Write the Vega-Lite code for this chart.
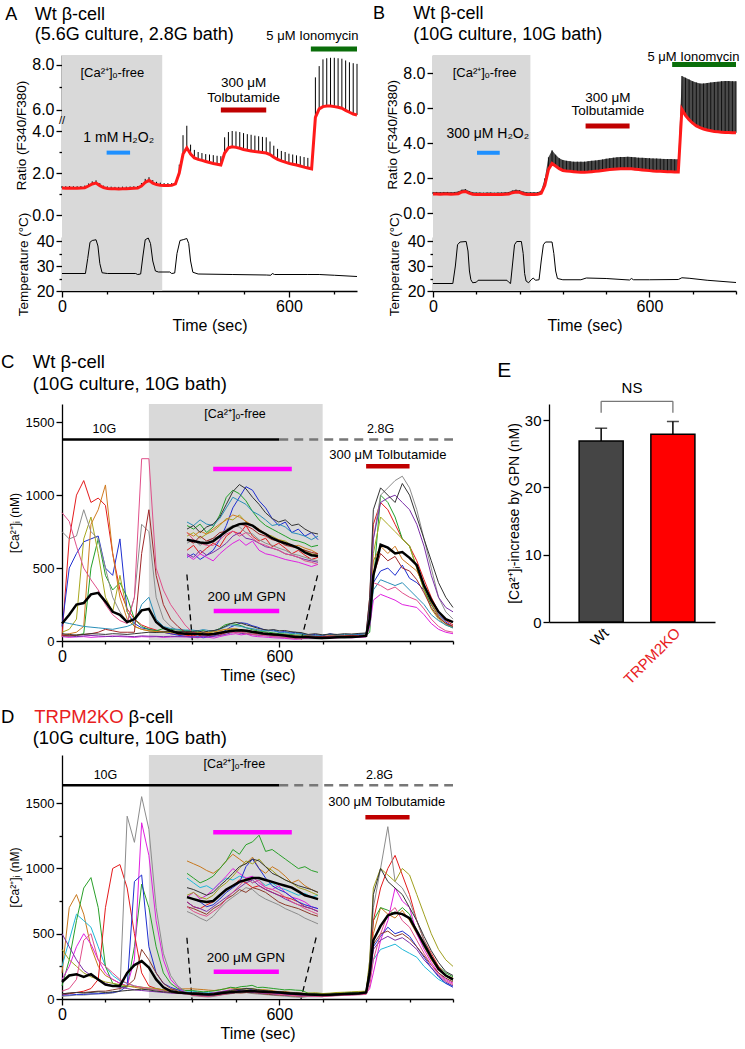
{
  "$schema": "https://vega.github.io/schema/vega-lite/v6.json",
  "background": "white",
  "padding": {"left": 0, "top": 5, "right": 3, "bottom": 2},
  "config": {
    "font": "Liberation Sans",
    "view": {"stroke": null},
    "axis": {"grid": false, "domainColor": "#000", "tickColor": "#000", "labelColor": "#000", "titleColor": "#000", "titleFontWeight": "normal", "domainWidth": 1.3, "tickWidth": 1.3, "labelFlush": false, "labelOverlap": false},
    "title": {"font": "Liberation Sans", "color": "#000"}
  },
  "resolve": {"scale": {"color": "independent"}},
  "spacing": 20,
  "datasets": {
    "ratioA": [
      {"t":0,"m":1.28,"u":1.38},{"t":10,"m":1.27,"u":1.37},{"t":20,"m":1.28,"u":1.38},{"t":30,"m":1.27,"u":1.37},{"t":40,"m":1.27,"u":1.37},{"t":50,"m":1.28,"u":1.38},{"t":60,"m":1.30,"u":1.40},{"t":70,"m":1.38,"u":1.50},{"t":80,"m":1.48,"u":1.60},{"t":90,"m":1.52,"u":1.65},{"t":100,"m":1.40,"u":1.52},{"t":110,"m":1.30,"u":1.40},{"t":120,"m":1.26,"u":1.36},{"t":130,"m":1.25,"u":1.35},{"t":140,"m":1.25,"u":1.34},{"t":150,"m":1.24,"u":1.34},{"t":160,"m":1.25,"u":1.35},{"t":170,"m":1.25,"u":1.35},{"t":180,"m":1.26,"u":1.36},{"t":190,"m":1.27,"u":1.37},{"t":200,"m":1.28,"u":1.38},{"t":210,"m":1.38,"u":1.52},{"t":220,"m":1.55,"u":1.72},{"t":230,"m":1.65,"u":1.80},{"t":240,"m":1.52,"u":1.66},{"t":250,"m":1.45,"u":1.58},{"t":260,"m":1.42,"u":1.54},{"t":270,"m":1.40,"u":1.52},{"t":280,"m":1.40,"u":1.52},{"t":290,"m":1.41,"u":1.52},{"t":300,"m":1.48,"u":1.60},{"t":310,"m":2.00,"u":2.40},{"t":320,"m":2.90,"u":3.80},{"t":330,"m":3.20,"u":4.25},{"t":340,"m":2.90,"u":3.35},{"t":350,"m":2.72,"u":3.10},{"t":360,"m":2.65,"u":3.00},{"t":370,"m":2.60,"u":2.95},{"t":380,"m":2.55,"u":2.90},{"t":390,"m":2.50,"u":2.88},{"t":400,"m":2.45,"u":2.85},{"t":410,"m":2.42,"u":2.82},{"t":420,"m":2.38,"u":2.80},{"t":430,"m":2.95,"u":3.70},{"t":440,"m":3.20,"u":3.95},{"t":450,"m":3.25,"u":4.00},{"t":460,"m":3.22,"u":3.98},{"t":470,"m":3.18,"u":3.95},{"t":480,"m":3.12,"u":3.90},{"t":490,"m":3.08,"u":3.85},{"t":500,"m":3.05,"u":3.82},{"t":510,"m":3.02,"u":3.78},{"t":520,"m":3.00,"u":3.75},{"t":530,"m":2.98,"u":3.72},{"t":540,"m":2.95,"u":3.70},{"t":550,"m":2.88,"u":3.50},{"t":560,"m":2.75,"u":3.30},{"t":570,"m":2.65,"u":3.15},{"t":580,"m":2.58,"u":3.05},{"t":590,"m":2.52,"u":3.00},{"t":600,"m":2.46,"u":2.92},{"t":610,"m":2.42,"u":2.88},{"t":620,"m":2.38,"u":2.84},{"t":630,"m":2.33,"u":2.80},{"t":640,"m":2.28,"u":2.76},{"t":650,"m":2.24,"u":2.72},{"t":660,"m":2.20,"u":2.68},{"t":670,"m":5.60,"u":7.45},{"t":680,"m":6.05,"u":7.95},{"t":690,"m":6.15,"u":8.25},{"t":700,"m":6.18,"u":8.30},{"t":710,"m":6.18,"u":8.32},{"t":720,"m":6.15,"u":8.32},{"t":730,"m":6.12,"u":8.30},{"t":740,"m":6.08,"u":8.28},{"t":750,"m":5.98,"u":8.20},{"t":760,"m":5.90,"u":8.12},{"t":770,"m":5.82,"u":8.08},{"t":780,"m":5.78,"u":8.05}
    ],
    "tempA": [
      {"t":0,"c":27},{"t":62,"c":27},{"t":68,"c":33},{"t":74,"c":39.5},{"t":80,"c":40.2},{"t":90,"c":40.5},{"t":95,"c":38},{"t":100,"c":31},{"t":106,"c":27.3},{"t":120,"c":27},{"t":195,"c":27},{"t":200,"c":26.6},{"t":208,"c":26.8},{"t":214,"c":34},{"t":220,"c":40.5},{"t":228,"c":41.2},{"t":234,"c":39},{"t":240,"c":32},{"t":247,"c":28},{"t":255,"c":27.6},{"t":285,"c":27.6},{"t":290,"c":27},{"t":298,"c":27.2},{"t":304,"c":35},{"t":312,"c":40.2},{"t":322,"c":40.6},{"t":330,"c":41},{"t":335,"c":39},{"t":340,"c":32},{"t":346,"c":27.5},{"t":360,"c":26.8},{"t":450,"c":26.6},{"t":540,"c":26.4},{"t":552,"c":26.3},{"t":556,"c":27},{"t":562,"c":26.6},{"t":650,"c":26.6},{"t":680,"c":26.6},{"t":720,"c":26.3},{"t":780,"c":25.8}
    ],
    "ratioB": [
      {"t":0,"m":1.10,"u":1.22},{"t":10,"m":1.10,"u":1.22},{"t":20,"m":1.09,"u":1.21},{"t":30,"m":1.10,"u":1.22},{"t":40,"m":1.10,"u":1.22},{"t":50,"m":1.09,"u":1.21},{"t":60,"m":1.10,"u":1.22},{"t":70,"m":1.12,"u":1.25},{"t":80,"m":1.22,"u":1.35},{"t":90,"m":1.25,"u":1.38},{"t":100,"m":1.15,"u":1.27},{"t":110,"m":1.09,"u":1.20},{"t":120,"m":1.08,"u":1.19},{"t":130,"m":1.08,"u":1.19},{"t":140,"m":1.07,"u":1.18},{"t":150,"m":1.08,"u":1.19},{"t":160,"m":1.08,"u":1.19},{"t":170,"m":1.07,"u":1.18},{"t":180,"m":1.08,"u":1.19},{"t":190,"m":1.08,"u":1.19},{"t":200,"m":1.09,"u":1.20},{"t":210,"m":1.10,"u":1.22},{"t":220,"m":1.18,"u":1.30},{"t":230,"m":1.22,"u":1.35},{"t":240,"m":1.20,"u":1.32},{"t":250,"m":1.12,"u":1.24},{"t":260,"m":1.08,"u":1.20},{"t":270,"m":1.08,"u":1.20},{"t":280,"m":1.08,"u":1.20},{"t":290,"m":1.09,"u":1.21},{"t":300,"m":1.15,"u":1.30},{"t":310,"m":1.60,"u":2.00},{"t":320,"m":2.50,"u":3.20},{"t":330,"m":2.85,"u":3.60},{"t":340,"m":2.70,"u":3.35},{"t":350,"m":2.55,"u":3.15},{"t":360,"m":2.45,"u":3.05},{"t":370,"m":2.42,"u":3.00},{"t":380,"m":2.40,"u":2.98},{"t":390,"m":2.38,"u":2.95},{"t":400,"m":2.36,"u":2.95},{"t":410,"m":2.35,"u":2.95},{"t":420,"m":2.35,"u":2.95},{"t":430,"m":2.36,"u":2.98},{"t":440,"m":2.38,"u":3.00},{"t":450,"m":2.40,"u":3.02},{"t":460,"m":2.42,"u":3.05},{"t":470,"m":2.45,"u":3.08},{"t":480,"m":2.48,"u":3.12},{"t":490,"m":2.50,"u":3.15},{"t":500,"m":2.52,"u":3.18},{"t":510,"m":2.53,"u":3.20},{"t":520,"m":2.54,"u":3.22},{"t":530,"m":2.55,"u":3.22},{"t":540,"m":2.55,"u":3.23},{"t":550,"m":2.54,"u":3.22},{"t":560,"m":2.52,"u":3.20},{"t":570,"m":2.50,"u":3.18},{"t":580,"m":2.48,"u":3.17},{"t":590,"m":2.46,"u":3.16},{"t":600,"m":2.44,"u":3.15},{"t":610,"m":2.42,"u":3.14},{"t":620,"m":2.41,"u":3.13},{"t":630,"m":2.40,"u":3.12},{"t":640,"m":2.39,"u":3.11},{"t":650,"m":2.38,"u":3.10},{"t":660,"m":2.37,"u":3.10},{"t":670,"m":2.36,"u":3.09},{"t":680,"m":2.36,"u":3.09},{"t":690,"m":5.95,"u":7.85},{"t":700,"m":5.60,"u":7.75},{"t":710,"m":5.35,"u":7.65},{"t":720,"m":5.15,"u":7.55},{"t":730,"m":5.00,"u":7.48},{"t":740,"m":4.90,"u":7.42},{"t":750,"m":4.82,"u":7.42},{"t":760,"m":4.76,"u":7.45},{"t":770,"m":4.72,"u":7.48},{"t":780,"m":4.68,"u":7.50},{"t":790,"m":4.66,"u":7.52},{"t":800,"m":4.64,"u":7.55},{"t":810,"m":4.62,"u":7.56},{"t":820,"m":4.62,"u":7.56},{"t":830,"m":4.61,"u":7.55},{"t":840,"m":4.60,"u":7.55}
    ],
    "tempB": [
      {"t":0,"c":23},{"t":55,"c":23},{"t":62,"c":30},{"t":68,"c":38.5},{"t":75,"c":39.6},{"t":92,"c":39.8},{"t":97,"c":36},{"t":101,"c":28},{"t":105,"c":24.5},{"t":110,"c":23.3},{"t":120,"c":23.5},{"t":125,"c":24.3},{"t":205,"c":24.3},{"t":210,"c":23.5},{"t":215,"c":23},{"t":220,"c":30},{"t":226,"c":38.5},{"t":232,"c":39.8},{"t":245,"c":39.8},{"t":250,"c":35},{"t":254,"c":27},{"t":258,"c":24},{"t":265,"c":23.3},{"t":272,"c":24.5},{"t":278,"c":25.2},{"t":284,"c":24.3},{"t":294,"c":24.5},{"t":300,"c":32},{"t":306,"c":38.5},{"t":312,"c":39.6},{"t":330,"c":39.6},{"t":335,"c":35},{"t":340,"c":28},{"t":345,"c":25},{"t":360,"c":24.5},{"t":410,"c":24.5},{"t":425,"c":25.2},{"t":480,"c":25},{"t":545,"c":24.4},{"t":550,"c":25},{"t":556,"c":24.5},{"t":600,"c":24.5},{"t":680,"c":24.6},{"t":690,"c":25.3},{"t":710,"c":25.1},{"t":760,"c":24.3},{"t":840,"c":23.4}
    ],
    "cellsC": [
      {"t":0,"m":120,"c1":30,"c2":100,"c3":30,"c4":30,"c5":60,"c6":40,"c7":750,"c8":130,"c9":40,"c10":40,"c11":880,"c12":50},
      {"t":20,"m":180,"c1":700,"c2":500,"c3":35,"c4":25,"c5":80,"c6":50,"c7":700,"c8":120,"c9":35,"c10":35,"c11":820,"c12":45},
      {"t":40,"m":250,"c1":1000,"c2":600,"c3":40,"c4":28,"c5":150,"c6":60,"c7":720,"c8":110,"c9":30,"c10":40,"c11":650,"c12":40},
      {"t":60,"m":260,"c1":1100,"c2":680,"c3":50,"c4":30,"c5":700,"c6":100,"c7":900,"c8":100,"c9":35,"c10":45,"c11":500,"c12":45},
      {"t":80,"m":320,"c1":950,"c2":700,"c3":500,"c4":25,"c5":850,"c6":800,"c7":750,"c8":95,"c9":38,"c10":50,"c11":420,"c12":50},
      {"t":100,"m":330,"c1":980,"c2":720,"c3":700,"c4":28,"c5":600,"c6":900,"c7":700,"c8":90,"c9":35,"c10":60,"c11":350,"c12":48},
      {"t":120,"m":270,"c1":930,"c2":500,"c3":450,"c4":30,"c5":300,"c6":1070,"c7":500,"c8":85,"c9":32,"c10":80,"c11":250,"c12":45},
      {"t":140,"m":200,"c1":600,"c2":450,"c3":350,"c4":35,"c5":200,"c6":600,"c7":300,"c8":80,"c9":30,"c10":70,"c11":180,"c12":50},
      {"t":160,"m":180,"c1":350,"c2":700,"c3":400,"c4":30,"c5":450,"c6":300,"c7":200,"c8":90,"c9":35,"c10":60,"c11":140,"c12":48},
      {"t":180,"m":130,"c1":220,"c2":200,"c3":300,"c4":28,"c5":200,"c6":150,"c7":130,"c8":100,"c9":32,"c10":60,"c11":120,"c12":45},
      {"t":200,"m":150,"c1":150,"c2":120,"c3":150,"c4":25,"c5":100,"c6":100,"c7":300,"c8":120,"c9":30,"c10":60,"c11":300,"c12":50},
      {"t":220,"m":210,"c1":110,"c2":90,"c3":100,"c4":30,"c5":80,"c6":80,"c7":800,"c8":250,"c9":35,"c10":600,"c11":1250,"c12":55},
      {"t":240,"m":220,"c1":90,"c2":80,"c3":80,"c4":28,"c5":70,"c6":70,"c7":750,"c8":300,"c9":33,"c10":900,"c11":1250,"c12":60},
      {"t":260,"m":130,"c1":75,"c2":70,"c3":70,"c4":30,"c5":65,"c6":65,"c7":300,"c8":150,"c9":32,"c10":450,"c11":500,"c12":58},
      {"t":280,"m":90,"c1":60,"c2":60,"c3":85,"c4":25,"c5":60,"c6":65,"c7":150,"c8":100,"c9":30,"c10":250,"c11":350,"c12":62},
      {"t":300,"m":70,"c1":50,"c2":50,"c3":80,"c4":28,"c5":58,"c6":62,"c7":100,"c8":85,"c9":32,"c10":150,"c11":250,"c12":65},
      {"t":320,"m":55,"c1":45,"c2":40,"c3":75,"c4":30,"c5":55,"c6":60,"c7":70,"c8":80,"c9":30,"c10":100,"c11":180,"c12":65},
      {"t":340,"m":50,"c1":40,"c2":32,"c3":72,"c4":28,"c5":55,"c6":60,"c7":50,"c8":75,"c9":30,"c10":60,"c11":110,"c12":65},
      {"t":360,"m":50,"c1":35,"c2":25,"c3":70,"c4":28,"c5":55,"c6":60,"c7":45,"c8":75,"c9":30,"c10":50,"c11":60,"c12":65},
      {"t":375,"m":48,"c1":42,"c2":30,"c3":65,"c4":22,"c5":60,"c6":55,"c7":50,"c8":70,"c9":25,"c10":45,"c11":50,"c12":70},
      {"t":390,"m":46,"c1":30,"c2":22,"c3":72,"c4":30,"c5":52,"c6":62,"c7":42,"c8":78,"c9":35,"c10":55,"c11":45,"c12":60},
      {"t":405,"m":45,"c1":38,"c2":28,"c3":60,"c4":25,"c5":58,"c6":58,"c7":48,"c8":72,"c9":28,"c10":48,"c11":42,"c12":68},
      {"t":420,"m":48,"c1":45,"c2":35,"c3":68,"c4":20,"c5":62,"c6":65,"c7":52,"c8":70,"c9":32,"c10":52,"c11":42,"c12":72},
      {"t":435,"m":55,"c1":40,"c2":50,"c3":85,"c4":30,"c5":70,"c6":72,"c7":55,"c8":80,"c9":38,"c10":60,"c11":50,"c12":82},
      {"t":450,"m":62,"c1":55,"c2":70,"c3":110,"c4":38,"c5":80,"c6":78,"c7":65,"c8":95,"c9":45,"c10":62,"c11":58,"c12":100},
      {"t":465,"m":68,"c1":62,"c2":95,"c3":120,"c4":45,"c5":78,"c6":85,"c7":70,"c8":110,"c9":55,"c10":68,"c11":62,"c12":118},
      {"t":480,"m":72,"c1":58,"c2":110,"c3":115,"c4":50,"c5":85,"c6":82,"c7":68,"c8":105,"c9":60,"c10":72,"c11":55,"c12":128},
      {"t":495,"m":73,"c1":70,"c2":125,"c3":105,"c4":42,"c5":75,"c6":76,"c7":60,"c8":100,"c9":52,"c10":70,"c11":60,"c12":122},
      {"t":510,"m":70,"c1":55,"c2":120,"c3":90,"c4":48,"c5":70,"c6":70,"c7":58,"c8":90,"c9":50,"c10":65,"c11":52,"c12":110},
      {"t":525,"m":63,"c1":48,"c2":105,"c3":78,"c4":35,"c5":62,"c6":65,"c7":50,"c8":85,"c9":45,"c10":58,"c11":45,"c12":100},
      {"t":540,"m":58,"c1":52,"c2":95,"c3":70,"c4":30,"c5":58,"c6":58,"c7":45,"c8":78,"c9":40,"c10":55,"c11":42,"c12":88},
      {"t":555,"m":52,"c1":40,"c2":80,"c3":65,"c4":28,"c5":55,"c6":52,"c7":42,"c8":70,"c9":38,"c10":50,"c11":38,"c12":80},
      {"t":570,"m":48,"c1":45,"c2":70,"c3":60,"c4":25,"c5":50,"c6":50,"c7":38,"c8":72,"c9":35,"c10":48,"c11":35,"c12":75},
      {"t":585,"m":45,"c1":38,"c2":75,"c3":55,"c4":22,"c5":48,"c6":45,"c7":35,"c8":68,"c9":30,"c10":42,"c11":30,"c12":78},
      {"t":600,"m":42,"c1":30,"c2":60,"c3":50,"c4":20,"c5":42,"c6":40,"c7":30,"c8":60,"c9":28,"c10":40,"c11":28,"c12":70},
      {"t":615,"m":38,"c1":35,"c2":65,"c3":48,"c4":18,"c5":38,"c6":42,"c7":28,"c8":58,"c9":25,"c10":38,"c11":25,"c12":72},
      {"t":630,"m":32,"c1":28,"c2":55,"c3":45,"c4":15,"c5":35,"c6":38,"c7":25,"c8":55,"c9":22,"c10":35,"c11":20,"c12":65},
      {"t":645,"m":28,"c1":22,"c2":60,"c3":40,"c4":12,"c5":30,"c6":35,"c7":22,"c8":50,"c9":20,"c10":32,"c11":18,"c12":60},
      {"t":660,"m":27,"c1":25,"c2":50,"c3":42,"c4":15,"c5":28,"c6":30,"c7":20,"c8":55,"c9":18,"c10":30,"c11":15,"c12":58},
      {"t":680,"m":25,"c1":30,"c2":40,"c3":35,"c4":20,"c5":30,"c6":35,"c7":28,"c8":40,"c9":30,"c10":35,"c11":25,"c12":45},
      {"t":700,"m":22,"c1":28,"c2":45,"c3":30,"c4":22,"c5":32,"c6":30,"c7":30,"c8":38,"c9":28,"c10":32,"c11":22,"c12":50},
      {"t":720,"m":20,"c1":25,"c2":35,"c3":32,"c4":18,"c5":28,"c6":32,"c7":25,"c8":42,"c9":32,"c10":30,"c11":20,"c12":42},
      {"t":740,"m":22,"c1":30,"c2":50,"c3":28,"c4":20,"c5":30,"c6":35,"c7":28,"c8":45,"c9":30,"c10":35,"c11":25,"c12":48},
      {"t":760,"m":25,"c1":35,"c2":40,"c3":35,"c4":22,"c5":35,"c6":30,"c7":30,"c8":40,"c9":28,"c10":33,"c11":22,"c12":45},
      {"t":780,"m":25,"c1":32,"c2":38,"c3":30,"c4":25,"c5":32,"c6":35,"c7":32,"c8":45,"c9":30,"c10":35,"c11":28,"c12":50},
      {"t":800,"m":28,"c1":30,"c2":42,"c3":35,"c4":22,"c5":35,"c6":38,"c7":30,"c8":42,"c9":32,"c10":38,"c11":25,"c12":48},
      {"t":820,"m":30,"c1":35,"c2":45,"c3":38,"c4":25,"c5":38,"c6":36,"c7":35,"c8":48,"c9":35,"c10":36,"c11":28,"c12":52},
      {"t":840,"m":35,"c1":40,"c2":48,"c3":40,"c4":28,"c5":40,"c6":40,"c7":38,"c8":50,"c9":38,"c10":40,"c11":30,"c12":55},
      {"t":850,"m":150,"c1":300,"c2":150,"c3":60,"c4":100,"c5":200,"c6":250,"c7":200,"c8":120,"c9":250,"c10":150,"c11":150,"c12":300},
      {"t":860,"m":450,"c1":800,"c2":400,"c3":400,"c4":280,"c5":600,"c6":550,"c7":700,"c8":350,"c9":700,"c10":450,"c11":400,"c12":900},
      {"t":880,"m":660,"c1":950,"c2":480,"c3":1000,"c4":320,"c5":850,"c6":650,"c7":1000,"c8":420,"c9":950,"c10":600,"c11":380,"c12":1050},
      {"t":900,"m":640,"c1":900,"c2":500,"c3":950,"c4":300,"c5":800,"c6":600,"c7":1050,"c8":400,"c9":980,"c10":550,"c11":350,"c12":1000},
      {"t":920,"m":600,"c1":800,"c2":450,"c3":850,"c4":280,"c5":750,"c6":650,"c7":1100,"c8":380,"c9":1000,"c10":580,"c11":370,"c12":950},
      {"t":940,"m":610,"c1":700,"c2":520,"c3":700,"c4":250,"c5":700,"c6":560,"c7":1130,"c8":400,"c9":950,"c10":500,"c11":330,"c12":1080},
      {"t":960,"m":570,"c1":650,"c2":430,"c3":650,"c4":240,"c5":650,"c6":520,"c7":1050,"c8":350,"c9":900,"c10":480,"c11":300,"c12":1000},
      {"t":980,"m":520,"c1":550,"c2":400,"c3":500,"c4":230,"c5":500,"c6":480,"c7":900,"c8":300,"c9":800,"c10":420,"c11":280,"c12":850},
      {"t":1000,"m":380,"c1":420,"c2":350,"c3":350,"c4":180,"c5":350,"c6":380,"c7":700,"c8":250,"c9":650,"c10":330,"c11":220,"c12":700},
      {"t":1020,"m":280,"c1":300,"c2":250,"c3":250,"c4":120,"c5":220,"c6":260,"c7":500,"c8":180,"c9":450,"c10":230,"c11":150,"c12":550},
      {"t":1040,"m":200,"c1":200,"c2":180,"c3":170,"c4":80,"c5":150,"c6":170,"c7":300,"c8":140,"c9":300,"c10":160,"c11":100,"c12":400},
      {"t":1060,"m":150,"c1":140,"c2":130,"c3":120,"c4":60,"c5":110,"c6":120,"c7":200,"c8":110,"c9":230,"c10":120,"c11":70,"c12":300},
      {"t":1080,"m":130,"c1":110,"c2":100,"c3":90,"c4":50,"c5":90,"c6":100,"c7":150,"c8":90,"c9":200,"c10":100,"c11":60,"c12":230}
    ],
    "cellsD": [
      {"t":0,"m":130,"c1":200,"c2":250,"c3":100,"c4":150,"c5":30,"c6":20,"c7":30,"c8":40,"c9":500,"c10":380,"c11":60,"c12":40},
      {"t":20,"m":180,"c1":700,"c2":450,"c3":300,"c4":250,"c5":40,"c6":25,"c7":30,"c8":45,"c9":400,"c10":300,"c11":80,"c12":45},
      {"t":40,"m":190,"c1":800,"c2":650,"c3":600,"c4":400,"c5":50,"c6":30,"c7":35,"c8":50,"c9":300,"c10":250,"c11":150,"c12":50},
      {"t":60,"m":170,"c1":650,"c2":600,"c3":850,"c4":500,"c5":60,"c6":30,"c7":35,"c8":50,"c9":220,"c10":200,"c11":450,"c12":45},
      {"t":80,"m":190,"c1":400,"c2":550,"c3":930,"c4":420,"c5":80,"c6":35,"c7":40,"c8":55,"c9":180,"c10":170,"c11":500,"c12":50},
      {"t":100,"m":150,"c1":250,"c2":400,"c3":700,"c4":300,"c5":150,"c6":40,"c7":40,"c8":60,"c9":150,"c10":150,"c11":300,"c12":55},
      {"t":120,"m":110,"c1":180,"c2":250,"c3":250,"c4":200,"c5":700,"c6":40,"c7":45,"c8":60,"c9":120,"c10":130,"c11":250,"c12":50},
      {"t":140,"m":100,"c1":150,"c2":180,"c3":120,"c4":150,"c5":1000,"c6":45,"c7":50,"c8":70,"c9":100,"c10":120,"c11":200,"c12":55},
      {"t":160,"m":100,"c1":120,"c2":140,"c3":100,"c4":120,"c5":1030,"c6":60,"c7":60,"c8":80,"c9":90,"c10":110,"c11":150,"c12":60},
      {"t":180,"m":200,"c1":100,"c2":120,"c3":90,"c4":100,"c5":850,"c6":1400,"c7":100,"c8":100,"c9":80,"c10":100,"c11":120,"c12":65},
      {"t":200,"m":260,"c1":90,"c2":100,"c3":400,"c4":300,"c5":500,"c6":1200,"c7":900,"c8":150,"c9":70,"c10":95,"c11":100,"c12":70},
      {"t":220,"m":290,"c1":80,"c2":90,"c3":880,"c4":1350,"c5":200,"c6":1550,"c7":950,"c8":380,"c9":65,"c10":90,"c11":90,"c12":75},
      {"t":240,"m":240,"c1":75,"c2":80,"c3":700,"c4":1100,"c5":100,"c6":1300,"c7":400,"c8":300,"c9":60,"c10":85,"c11":80,"c12":70},
      {"t":260,"m":150,"c1":70,"c2":70,"c3":400,"c4":600,"c5":80,"c6":700,"c7":200,"c8":200,"c9":55,"c10":80,"c11":70,"c12":60},
      {"t":280,"m":90,"c1":70,"c2":65,"c3":200,"c4":300,"c5":70,"c6":350,"c7":120,"c8":120,"c9":50,"c10":70,"c11":60,"c12":55},
      {"t":300,"m":60,"c1":72,"c2":60,"c3":120,"c4":150,"c5":60,"c6":180,"c7":90,"c8":80,"c9":45,"c10":60,"c11":50,"c12":50},
      {"t":320,"m":50,"c1":75,"c2":60,"c3":80,"c4":90,"c5":55,"c6":100,"c7":70,"c8":60,"c9":42,"c10":55,"c11":45,"c12":45},
      {"t":340,"m":45,"c1":78,"c2":60,"c3":65,"c4":50,"c5":50,"c6":60,"c7":50,"c8":50,"c9":40,"c10":45,"c11":40,"c12":40},
      {"t":360,"m":40,"c1":78,"c2":60,"c3":65,"c4":40,"c5":35,"c6":25,"c7":40,"c8":30,"c9":35,"c10":42,"c11":30,"c12":50},
      {"t":375,"m":38,"c1":75,"c2":55,"c3":60,"c4":45,"c5":30,"c6":22,"c7":38,"c8":28,"c9":30,"c10":45,"c11":25,"c12":48},
      {"t":390,"m":36,"c1":72,"c2":50,"c3":55,"c4":38,"c5":28,"c6":18,"c7":35,"c8":25,"c9":28,"c10":40,"c11":22,"c12":45},
      {"t":405,"m":35,"c1":68,"c2":52,"c3":58,"c4":42,"c5":32,"c6":15,"c7":30,"c8":22,"c9":25,"c10":38,"c11":20,"c12":42},
      {"t":420,"m":36,"c1":65,"c2":48,"c3":62,"c4":48,"c5":35,"c6":20,"c7":32,"c8":28,"c9":30,"c10":42,"c11":25,"c12":45},
      {"t":435,"m":42,"c1":70,"c2":55,"c3":70,"c4":55,"c5":42,"c6":28,"c7":38,"c8":32,"c9":35,"c10":50,"c11":30,"c12":52},
      {"t":450,"m":48,"c1":78,"c2":60,"c3":78,"c4":62,"c5":48,"c6":35,"c7":45,"c8":38,"c9":40,"c10":55,"c11":38,"c12":58},
      {"t":465,"m":52,"c1":85,"c2":58,"c3":90,"c4":70,"c5":52,"c6":40,"c7":50,"c8":42,"c9":45,"c10":62,"c11":45,"c12":65},
      {"t":480,"m":56,"c1":80,"c2":62,"c3":85,"c4":65,"c5":58,"c6":45,"c7":55,"c8":48,"c9":50,"c10":70,"c11":52,"c12":72},
      {"t":495,"m":58,"c1":75,"c2":60,"c3":95,"c4":60,"c5":55,"c6":50,"c7":72,"c8":45,"c9":55,"c10":78,"c11":60,"c12":75},
      {"t":510,"m":60,"c1":82,"c2":55,"c3":98,"c4":62,"c5":50,"c6":48,"c7":80,"c8":50,"c9":58,"c10":75,"c11":55,"c12":80},
      {"t":525,"m":60,"c1":70,"c2":58,"c3":105,"c4":55,"c5":52,"c6":42,"c7":70,"c8":48,"c9":52,"c10":80,"c11":58,"c12":78},
      {"t":540,"m":58,"c1":65,"c2":52,"c3":88,"c4":50,"c5":48,"c6":38,"c7":60,"c8":45,"c9":48,"c10":72,"c11":50,"c12":72},
      {"t":555,"m":56,"c1":72,"c2":55,"c3":90,"c4":48,"c5":45,"c6":35,"c7":52,"c8":40,"c9":45,"c10":68,"c11":48,"c12":65},
      {"t":570,"m":54,"c1":68,"c2":50,"c3":85,"c4":52,"c5":42,"c6":32,"c7":48,"c8":35,"c9":42,"c10":62,"c11":45,"c12":62},
      {"t":585,"m":52,"c1":62,"c2":48,"c3":80,"c4":45,"c5":40,"c6":28,"c7":45,"c8":32,"c9":38,"c10":58,"c11":40,"c12":58},
      {"t":600,"m":50,"c1":55,"c2":45,"c3":75,"c4":40,"c5":38,"c6":25,"c7":40,"c8":30,"c9":35,"c10":55,"c11":35,"c12":55},
      {"t":615,"m":46,"c1":58,"c2":42,"c3":70,"c4":38,"c5":35,"c6":22,"c7":35,"c8":28,"c9":32,"c10":50,"c11":32,"c12":52},
      {"t":630,"m":42,"c1":52,"c2":44,"c3":72,"c4":35,"c5":30,"c6":18,"c7":32,"c8":25,"c9":30,"c10":48,"c11":28,"c12":50},
      {"t":645,"m":40,"c1":48,"c2":40,"c3":68,"c4":30,"c5":28,"c6":15,"c7":30,"c8":22,"c9":28,"c10":45,"c11":25,"c12":48},
      {"t":660,"m":38,"c1":45,"c2":42,"c3":66,"c4":28,"c5":25,"c6":12,"c7":28,"c8":20,"c9":25,"c10":42,"c11":22,"c12":45},
      {"t":680,"m":35,"c1":40,"c2":35,"c3":45,"c4":30,"c5":25,"c6":20,"c7":30,"c8":28,"c9":25,"c10":45,"c11":22,"c12":35},
      {"t":700,"m":33,"c1":42,"c2":32,"c3":40,"c4":28,"c5":28,"c6":22,"c7":28,"c8":30,"c9":22,"c10":48,"c11":20,"c12":38},
      {"t":720,"m":30,"c1":38,"c2":30,"c3":42,"c4":32,"c5":30,"c6":25,"c7":25,"c8":32,"c9":20,"c10":42,"c11":18,"c12":32},
      {"t":740,"m":32,"c1":40,"c2":35,"c3":38,"c4":30,"c5":28,"c6":22,"c7":30,"c8":30,"c9":25,"c10":45,"c11":22,"c12":35},
      {"t":760,"m":35,"c1":45,"c2":38,"c3":45,"c4":35,"c5":32,"c6":28,"c7":32,"c8":35,"c9":28,"c10":50,"c11":25,"c12":40},
      {"t":780,"m":38,"c1":42,"c2":40,"c3":48,"c4":38,"c5":35,"c6":30,"c7":35,"c8":38,"c9":30,"c10":52,"c11":28,"c12":42},
      {"t":800,"m":40,"c1":48,"c2":42,"c3":50,"c4":36,"c5":38,"c6":32,"c7":38,"c8":40,"c9":32,"c10":55,"c11":30,"c12":45},
      {"t":820,"m":42,"c1":50,"c2":45,"c3":52,"c4":40,"c5":40,"c6":35,"c7":40,"c8":42,"c9":35,"c10":58,"c11":32,"c12":48},
      {"t":840,"m":50,"c1":55,"c2":48,"c3":55,"c4":42,"c5":45,"c6":38,"c7":42,"c8":45,"c9":38,"c10":60,"c11":35,"c12":50},
      {"t":850,"m":200,"c1":200,"c2":150,"c3":250,"c4":80,"c5":200,"c6":300,"c7":150,"c8":180,"c9":150,"c10":300,"c11":100,"c12":250},
      {"t":860,"m":450,"c1":500,"c2":300,"c3":600,"c4":200,"c5":600,"c6":700,"c7":400,"c8":420,"c9":380,"c10":850,"c11":300,"c12":800},
      {"t":880,"m":560,"c1":700,"c2":380,"c3":700,"c4":450,"c5":850,"c6":1000,"c7":480,"c8":500,"c9":450,"c10":1000,"c11":500,"c12":1000},
      {"t":900,"m":640,"c1":650,"c2":400,"c3":680,"c4":600,"c5":1000,"c6":1320,"c7":550,"c8":520,"c9":480,"c10":950,"c11":650,"c12":900},
      {"t":920,"m":660,"c1":620,"c2":420,"c3":650,"c4":850,"c5":1100,"c6":900,"c7":500,"c8":480,"c9":450,"c10":900,"c11":700,"c12":850},
      {"t":940,"m":650,"c1":680,"c2":380,"c3":700,"c4":750,"c5":950,"c6":850,"c7":520,"c8":500,"c9":470,"c10":1000,"c11":600,"c12":800},
      {"t":960,"m":620,"c1":600,"c2":350,"c3":650,"c4":700,"c5":800,"c6":750,"c7":480,"c8":460,"c9":430,"c10":950,"c11":550,"c12":700},
      {"t":980,"m":520,"c1":500,"c2":320,"c3":520,"c4":500,"c5":600,"c6":600,"c7":400,"c8":400,"c9":380,"c10":800,"c11":450,"c12":600},
      {"t":1000,"m":420,"c1":400,"c2":250,"c3":400,"c4":380,"c5":450,"c6":450,"c7":320,"c8":330,"c9":300,"c10":650,"c11":350,"c12":480},
      {"t":1020,"m":320,"c1":300,"c2":200,"c3":320,"c4":280,"c5":350,"c6":330,"c7":240,"c8":260,"c9":240,"c10":500,"c11":260,"c12":370},
      {"t":1040,"m":230,"c1":220,"c2":150,"c3":250,"c4":200,"c5":250,"c6":240,"c7":170,"c8":200,"c9":180,"c10":380,"c11":190,"c12":280},
      {"t":1060,"m":180,"c1":180,"c2":120,"c3":200,"c4":150,"c5":180,"c6":180,"c7":120,"c8":160,"c9":130,"c10":300,"c11":140,"c12":210},
      {"t":1080,"m":150,"c1":160,"c2":100,"c3":170,"c4":120,"c5":140,"c6":140,"c7":90,"c8":130,"c9":100,"c10":250,"c11":110,"c12":180}
    ],
    "gpn": [
      {"g":"Wt","v":26.9,"hi":28.8},
      {"g":"TRPM2KO","v":27.9,"hi":29.8}
    ]
  },
  "vconcat": [
    {
      "spacing": 10,
      "hconcat": [
        {
          "width": 295, "height": 236,
          "layer": [
            {"data": {"values": [{}]}, "mark": {"type": "rect", "color": "#d9d9d9"},
             "encoding": {"x": {"datum": 0, "type": "quantitative", "scale": {"domain": [0, 780]},
                                "axis": {"title": "Time (sec)", "values": [0,60,120,180,240,300,360,420,480,540,600,660,720,780], "labelExpr": "datum.value % 300 == 0 ? datum.label : ''", "tickSize": {"condition": {"test": "datum.value % 300 != 0", "value": 3}, "value": 6}, "labelFontSize": 16, "titleFontSize": 16, "labelPadding": 1, "titlePadding": 3}},
                          "x2": {"datum": 265}}},
            {"data": {"name": "ratioA"},
             "layer": [
               {"mark": {"type": "rule", "color": "#000", "strokeWidth": 1},
                "encoding": {"x": {"field": "t", "type": "quantitative", "scale": {"domain": [0, 780]}},
                             "y": {"field": "m", "type": "quantitative", "scale": {"domain": [0, 4.3, 5.7, 8.444], "range": [160, 69.7, 61.75, 0]},
                                   "axis": {"orient": "left", "title": "Ratio (F340/F380)", "values": [0,1,2,3,4], "labelExpr": "datum.value % 2 == 0 ? format(datum.value, '.1f') : ''", "tickSize": {"condition": {"test": "datum.value % 2 != 0", "value": 3}, "value": 6}, "labelFontSize": 16, "titleFontSize": 13.5, "titlePadding": 3}},
                             "y2": {"field": "u"}}},
               {"mark": {"type": "line", "color": "#ff1a1a", "strokeWidth": 3},
                "encoding": {"x": {"field": "t", "type": "quantitative", "scale": {"domain": [0, 780]}}, "y": {"field": "m", "type": "quantitative", "scale": {"domain": [0, 4.3, 5.7, 8.444], "range": [160, 69.7, 61.75, 0]}}}},
               {"data": {"values": [{}]},
                "layer": [
                  {"mark": {"type": "text", "text": "A", "fontSize": 18, "align": "left", "baseline": "middle"}, "encoding": {"x": {"datum": -150, "scale": {"domain": [0, 780]}}, "y": {"datum": 10.22, "scale": {"domain": [0, 4.3, 5.7, 8.444], "range": [160, 69.7, 61.75, 0]}}}},
                  {"mark": {"type": "text", "text": "Wt β-cell", "fontSize": 18, "align": "left", "baseline": "middle"}, "encoding": {"x": {"datum": -72, "scale": {"domain": [0, 780]}}, "y": {"datum": 10.22, "scale": {"domain": [0, 4.3, 5.7, 8.444], "range": [160, 69.7, 61.75, 0]}}}},
                  {"mark": {"type": "text", "text": "(5.6G culture, 2.8G bath)", "fontSize": 18, "align": "left", "baseline": "middle"}, "encoding": {"x": {"datum": -72, "scale": {"domain": [0, 780]}}, "y": {"datum": 9.32, "scale": {"domain": [0, 4.3, 5.7, 8.444], "range": [160, 69.7, 61.75, 0]}}}},
                  {"mark": {"type": "text", "text": "//", "fontSize": 11, "align": "center", "baseline": "middle"}, "encoding": {"x": {"datum": 0, "scale": {"domain": [0, 780]}}, "y": {"datum": 5.0, "scale": {"domain": [0, 4.3, 5.7, 8.444], "range": [160, 69.7, 61.75, 0]}}}},
                  {"mark": {"type": "text", "text": "[Ca²⁺]ₒ-free", "fontSize": 13, "align": "center", "baseline": "middle"}, "encoding": {"x": {"datum": 133, "scale": {"domain": [0, 780]}}, "y": {"datum": 7.66, "scale": {"domain": [0, 4.3, 5.7, 8.444], "range": [160, 69.7, 61.75, 0]}}}},
                  {"mark": {"type": "text", "text": "1 mM H₂O₂", "fontSize": 14, "align": "center", "baseline": "middle"}, "encoding": {"x": {"datum": 150, "scale": {"domain": [0, 780]}}, "y": {"datum": 3.68, "scale": {"domain": [0, 4.3, 5.7, 8.444], "range": [160, 69.7, 61.75, 0]}}}},
                  {"mark": {"type": "rule", "color": "#1e90ff", "strokeWidth": 4}, "encoding": {"x": {"datum": 118, "scale": {"domain": [0, 780]}}, "x2": {"datum": 180}, "y": {"datum": 2.97, "scale": {"domain": [0, 4.3, 5.7, 8.444], "range": [160, 69.7, 61.75, 0]}}}},
                  {"mark": {"type": "text", "text": "300 μM", "fontSize": 13.5, "align": "center", "baseline": "middle"}, "encoding": {"x": {"datum": 480, "scale": {"domain": [0, 780]}}, "y": {"datum": 7.21, "scale": {"domain": [0, 4.3, 5.7, 8.444], "range": [160, 69.7, 61.75, 0]}}}},
                  {"mark": {"type": "text", "text": "Tolbutamide", "fontSize": 13.5, "align": "center", "baseline": "middle"}, "encoding": {"x": {"datum": 480, "scale": {"domain": [0, 780]}}, "y": {"datum": 6.55, "scale": {"domain": [0, 4.3, 5.7, 8.444], "range": [160, 69.7, 61.75, 0]}}}},
                  {"mark": {"type": "rule", "color": "#c00000", "strokeWidth": 5}, "encoding": {"x": {"datum": 420, "scale": {"domain": [0, 780]}}, "x2": {"datum": 540}, "y": {"datum": 6.0, "scale": {"domain": [0, 4.3, 5.7, 8.444], "range": [160, 69.7, 61.75, 0]}}}},
                  {"mark": {"type": "text", "text": "5 μM Ionomycin", "fontSize": 13, "align": "center", "baseline": "middle"}, "encoding": {"x": {"datum": 662, "scale": {"domain": [0, 780]}}, "y": {"datum": 9.29, "scale": {"domain": [0, 4.3, 5.7, 8.444], "range": [160, 69.7, 61.75, 0]}}}},
                  {"mark": {"type": "rule", "color": "#0a6e0a", "strokeWidth": 5}, "encoding": {"x": {"datum": 658, "scale": {"domain": [0, 780]}}, "x2": {"datum": 780}, "y": {"datum": 8.71, "scale": {"domain": [0, 4.3, 5.7, 8.444], "range": [160, 69.7, 61.75, 0]}}}}
                ]}
             ]},
            {"data": {"values": [{}]}, "mark": {"type": "point", "opacity": 0},
             "encoding": {"y": {"datum": 7, "type": "quantitative", "scale": {"domain": [5.7, 8.444], "range": [61.75, 0]},
                                "axis": {"orient": "left", "title": null, "values": [6, 7, 8], "labelExpr": "datum.value % 2 == 0 ? format(datum.value, '.1f') : ''", "tickSize": {"condition": {"test": "datum.value % 2 != 0", "value": 3}, "value": 6}, "labelFontSize": 16}}}},
            {"data": {"name": "tempA"}, "mark": {"type": "line", "color": "#000", "strokeWidth": 1},
             "encoding": {"x": {"field": "t", "type": "quantitative", "scale": {"domain": [0, 780]}},
                          "y": {"field": "c", "type": "quantitative", "scale": {"domain": [20, 41.6], "range": [236, 182]},
                                "axis": {"orient": "left", "title": "Temperature (°C)", "values": [20,25,30,35,40], "labelExpr": "datum.value % 10 == 0 ? datum.label : ''", "tickSize": {"condition": {"test": "datum.value % 10 != 0", "value": 3}, "value": 6}, "labelFontSize": 16, "titleFontSize": 13.5, "titlePadding": 6}}}}
          ],
          "resolve": {"scale": {"y": "independent"}, "axis": {"y": "independent"}}
        },
        {
          "width": 303, "height": 236,
          "layer": [
            {"data": {"values": [{}]}, "mark": {"type": "rect", "color": "#d9d9d9"},
             "encoding": {"x": {"datum": 0, "type": "quantitative", "scale": {"domain": [0, 840]},
                                "axis": {"title": "Time (sec)", "values": [0,60,120,180,240,300,360,420,480,540,600,660,720,780,840], "labelExpr": "datum.value % 300 == 0 ? datum.label : ''", "tickSize": {"condition": {"test": "datum.value % 300 != 0", "value": 3}, "value": 6}, "labelFontSize": 16, "titleFontSize": 16, "labelPadding": 1, "titlePadding": 3}},
                          "x2": {"datum": 270}}},
            {"data": {"name": "ratioB"},
             "layer": [
               {"mark": {"type": "area", "color": "#4a4a4a", "opacity": 1},
                "encoding": {"x": {"field": "t", "type": "quantitative", "scale": {"domain": [0, 840]}},
                             "y": {"field": "m", "type": "quantitative", "scale": {"domain": [0, 9.05], "range": [158.3, 0]},
                                   "axis": {"orient": "left", "title": "Ratio (F340/F380)", "values": [0,1,2,3,4,5,6,7,8], "labelExpr": "datum.value % 2 == 0 ? format(datum.value, '.1f') : ''", "tickSize": {"condition": {"test": "datum.value % 2 != 0", "value": 3}, "value": 6}, "labelFontSize": 16, "titleFontSize": 13.5, "titlePadding": 3}},
                             "y2": {"field": "u"}}},
               {"mark": {"type": "rule", "color": "#111", "strokeWidth": 1},
                "encoding": {"x": {"field": "t", "type": "quantitative", "scale": {"domain": [0, 840]}}, "y": {"field": "m", "type": "quantitative", "scale": {"domain": [0, 9.05], "range": [158.3, 0]}}, "y2": {"field": "u"}}},
               {"mark": {"type": "line", "color": "#ff1a1a", "strokeWidth": 3},
                "encoding": {"x": {"field": "t", "type": "quantitative", "scale": {"domain": [0, 840]}}, "y": {"field": "m", "type": "quantitative", "scale": {"domain": [0, 9.05], "range": [158.3, 0]}}}},
               {"data": {"values": [{}]},
                "layer": [
                  {"mark": {"type": "text", "text": "B", "fontSize": 18, "align": "left", "baseline": "middle"}, "encoding": {"x": {"datum": -166, "scale": {"domain": [0, 840]}}, "y": {"datum": 11.37, "scale": {"domain": [0, 9.05], "range": [158.3, 0]}}}},
                  {"mark": {"type": "text", "text": "Wt β-cell", "fontSize": 18, "align": "left", "baseline": "middle"}, "encoding": {"x": {"datum": -55, "scale": {"domain": [0, 840]}}, "y": {"datum": 11.37, "scale": {"domain": [0, 9.05], "range": [158.3, 0]}}}},
                  {"mark": {"type": "text", "text": "(10G culture, 10G bath)", "fontSize": 18, "align": "left", "baseline": "middle"}, "encoding": {"x": {"datum": -55, "scale": {"domain": [0, 840]}}, "y": {"datum": 10.2, "scale": {"domain": [0, 9.05], "range": [158.3, 0]}}}},
                  {"mark": {"type": "text", "text": "[Ca²⁺]ₒ-free", "fontSize": 13, "align": "center", "baseline": "middle"}, "encoding": {"x": {"datum": 143, "scale": {"domain": [0, 840]}}, "y": {"datum": 8.0, "scale": {"domain": [0, 9.05], "range": [158.3, 0]}}}},
                  {"mark": {"type": "text", "text": "300 μM H₂O₂", "fontSize": 14, "align": "center", "baseline": "middle"}, "encoding": {"x": {"datum": 152, "scale": {"domain": [0, 840]}}, "y": {"datum": 4.51, "scale": {"domain": [0, 9.05], "range": [158.3, 0]}}}},
                  {"mark": {"type": "rule", "color": "#1e90ff", "strokeWidth": 4}, "encoding": {"x": {"datum": 122, "scale": {"domain": [0, 840]}}, "x2": {"datum": 185}, "y": {"datum": 3.46, "scale": {"domain": [0, 9.05], "range": [158.3, 0]}}}},
                  {"mark": {"type": "text", "text": "300 μM", "fontSize": 13.5, "align": "center", "baseline": "middle"}, "encoding": {"x": {"datum": 485, "scale": {"domain": [0, 840]}}, "y": {"datum": 6.61, "scale": {"domain": [0, 9.05], "range": [158.3, 0]}}}},
                  {"mark": {"type": "text", "text": "Tolbutamide", "fontSize": 13.5, "align": "center", "baseline": "middle"}, "encoding": {"x": {"datum": 485, "scale": {"domain": [0, 840]}}, "y": {"datum": 5.85, "scale": {"domain": [0, 9.05], "range": [158.3, 0]}}}},
                  {"mark": {"type": "rule", "color": "#c00000", "strokeWidth": 5}, "encoding": {"x": {"datum": 423, "scale": {"domain": [0, 840]}}, "x2": {"datum": 545}, "y": {"datum": 4.99, "scale": {"domain": [0, 9.05], "range": [158.3, 0]}}}},
                  {"mark": {"type": "text", "text": "5 μM Ionomycin", "fontSize": 13, "align": "center", "baseline": "middle"}, "encoding": {"x": {"datum": 722, "scale": {"domain": [0, 840]}}, "y": {"datum": 8.93, "scale": {"domain": [0, 9.05], "range": [158.3, 0]}}}},
                  {"mark": {"type": "rule", "color": "#0a6e0a", "strokeWidth": 5}, "encoding": {"x": {"datum": 663, "scale": {"domain": [0, 840]}}, "x2": {"datum": 840}, "y": {"datum": 8.51, "scale": {"domain": [0, 9.05], "range": [158.3, 0]}}}}
                ]}
             ]},
            {"data": {"name": "tempB"}, "mark": {"type": "line", "color": "#000", "strokeWidth": 1},
             "encoding": {"x": {"field": "t", "type": "quantitative", "scale": {"domain": [0, 840]}},
                          "y": {"field": "c", "type": "quantitative", "scale": {"domain": [20, 41.6], "range": [236, 182]},
                                "axis": {"orient": "left", "title": "Temperature (°C)", "values": [20,25,30,35,40], "labelExpr": "datum.value % 10 == 0 ? datum.label : ''", "tickSize": {"condition": {"test": "datum.value % 10 != 0", "value": 3}, "value": 6}, "labelFontSize": 16, "titleFontSize": 13.5, "titlePadding": 6}}}}
          ],
          "resolve": {"scale": {"y": "independent"}, "axis": {"y": "independent"}}
        }
      ]
    },
    {
      "spacing": 39,
      "resolve": {"scale": {"color": "independent"}},
      "hconcat": [
        {
          "width": 391, "height": 237,
          "data": {"name": "cellsC"},
          "layer": [
            {
              "layer": [
                {"data": {"values": [{}]},
                 "layer": [
                   {"mark": {"type": "rect", "color": "#d9d9d9"},
                    "encoding": {"x": {"datum": 240, "type": "quantitative", "scale": {"domain": [0, 1080]},
                                       "axis": {"title": "Time (sec)", "values": [0,60,120,180,240,300,360,420,480,540,600,660,720,780,840,900,960,1020,1080], "labelExpr": "datum.value % 300 == 0 ? datum.label : ''", "tickSize": {"condition": {"test": "datum.value % 300 != 0", "value": 3}, "value": 6}, "labelFontSize": 16, "titleFontSize": 16, "labelPadding": 1, "titlePadding": 3}},
                                 "x2": {"datum": 720}}},
                   {"mark": {"type": "rule", "color": "#000", "strokeWidth": 1.3, "strokeDash": [6, 4]},
                    "encoding": {"x": {"datum": 345, "scale": {"domain": [0, 1080]}}, "x2": {"datum": 360},
                                 "y": {"datum": 456, "type": "quantitative", "scale": {"domain": [0, 1625]},
                                       "axis": {"title": "[Ca²⁺]ᵢ (nM)", "values": [0,250,500,750,1000,1250,1500], "labelExpr": "datum.value % 500 == 0 ? format(datum.value, 'd') : ''", "tickSize": {"condition": {"test": "datum.value % 500 != 0", "value": 3}, "value": 6}, "labelFontSize": 13, "titleFontSize": 12, "titlePadding": 4}},
                                 "y2": {"datum": 0}}},
                   {"mark": {"type": "rule", "color": "#000", "strokeWidth": 1.3, "strokeDash": [6, 4]},
                    "encoding": {"x": {"datum": 706, "scale": {"domain": [0, 1080]}}, "x2": {"datum": 660}, "y": {"datum": 450, "scale": {"domain": [0, 1625]}}, "y2": {"datum": 0}}},
                   {"mark": {"type": "rule", "color": "#000", "strokeWidth": 2.5},
                    "encoding": {"x": {"datum": 0, "scale": {"domain": [0, 1080]}}, "x2": {"datum": 600}, "y": {"datum": 1381, "scale": {"domain": [0, 1625]}}}},
                   {"mark": {"type": "rule", "color": "#777", "strokeWidth": 2.5, "strokeDash": [9, 6]},
                    "encoding": {"x": {"datum": 600, "scale": {"domain": [0, 1080]}}, "x2": {"datum": 1080}, "y": {"datum": 1381, "scale": {"domain": [0, 1625]}}}}
                 ]},
                {"transform": [{"fold": ["c1","c2","c3","c4","c5","c6","c7","c8","c9","c10","c11","c12"], "as": ["cell", "val"]}],
                 "mark": {"type": "line", "strokeWidth": 1},
                 "encoding": {"x": {"field": "t", "type": "quantitative", "scale": {"domain": [0, 1080]}}, "y": {"field": "val", "type": "quantitative", "scale": {"domain": [0, 1625]}},
                              "color": {"field": "cell", "type": "nominal", "legend": null,
                                        "scale": {"domain": ["c1","c2","c3","c4","c5","c6","c7","c8","c9","c10","c11","c12"], "range": ["#e41a1c","#1f2fd0","#22a02a","#e020e0","#a8a820","#d07a20","#8c8c8c","#2a8fb8","#7b2fa8","#a0282a","#e0508a","#333333"]}}}},
                {"mark": {"type": "line", "color": "#000", "strokeWidth": 2.5},
                 "encoding": {"x": {"field": "t", "type": "quantitative", "scale": {"domain": [0, 1080]}}, "y": {"field": "m", "type": "quantitative", "scale": {"domain": [0, 1625]}}}},
                {"data": {"values": [{}]},
                 "layer": [
                   {"mark": {"type": "text", "text": "C", "fontSize": 18.5, "align": "left", "baseline": "middle"}, "encoding": {"x": {"datum": -168.5, "scale": {"domain": [0, 1080]}}, "y": {"datum": 1911, "scale": {"domain": [0, 1625]}}}},
                   {"mark": {"type": "text", "text": "Wt β-cell", "fontSize": 18.5, "align": "left", "baseline": "middle"}, "encoding": {"x": {"datum": -81, "scale": {"domain": [0, 1080]}}, "y": {"datum": 1911, "scale": {"domain": [0, 1625]}}}},
                   {"mark": {"type": "text", "text": "(10G culture, 10G bath)", "fontSize": 18.5, "align": "left", "baseline": "middle"}, "encoding": {"x": {"datum": -81, "scale": {"domain": [0, 1080]}}, "y": {"datum": 1762, "scale": {"domain": [0, 1625]}}}},
                   {"mark": {"type": "text", "text": "[Ca²⁺]ₒ-free", "fontSize": 12.5, "align": "center", "baseline": "middle"}, "encoding": {"x": {"datum": 478, "scale": {"domain": [0, 1080]}}, "y": {"datum": 1559, "scale": {"domain": [0, 1625]}}}},
                   {"mark": {"type": "text", "text": "10G", "fontSize": 12.5, "align": "center", "baseline": "middle"}, "encoding": {"x": {"datum": 117, "scale": {"domain": [0, 1080]}}, "y": {"datum": 1454, "scale": {"domain": [0, 1625]}}}},
                   {"mark": {"type": "text", "text": "2.8G", "fontSize": 12.5, "align": "center", "baseline": "middle"}, "encoding": {"x": {"datum": 880, "scale": {"domain": [0, 1080]}}, "y": {"datum": 1454, "scale": {"domain": [0, 1625]}}}},
                   {"mark": {"type": "text", "text": "300 μM Tolbutamide", "fontSize": 13, "align": "center", "baseline": "middle"}, "encoding": {"x": {"datum": 900, "scale": {"domain": [0, 1080]}}, "y": {"datum": 1278, "scale": {"domain": [0, 1625]}}}},
                   {"mark": {"type": "rule", "color": "#c00000", "strokeWidth": 4.5}, "encoding": {"x": {"datum": 840, "scale": {"domain": [0, 1080]}}, "x2": {"datum": 960}, "y": {"datum": 1199, "scale": {"domain": [0, 1625]}}}},
                   {"mark": {"type": "text", "text": "200 μM GPN", "fontSize": 13.5, "align": "center", "baseline": "middle"}, "encoding": {"x": {"datum": 510, "scale": {"domain": [0, 1080]}}, "y": {"datum": 301, "scale": {"domain": [0, 1625]}}}},
                   {"mark": {"type": "rule", "color": "#ff00ff", "strokeWidth": 4.5}, "encoding": {"x": {"datum": 419, "scale": {"domain": [0, 1080]}}, "x2": {"datum": 600}, "y": {"datum": 205, "scale": {"domain": [0, 1625]}}}}
                 ]}
              ]
            },
            {
              "transform": [{"filter": "datum.t >= 360 && datum.t <= 660"}],
              "layer": [
                {"transform": [{"fold": ["c1","c2","c3","c4","c5","c6","c7","c8","c9","c10","c11","c12"], "as": ["cell", "val"]}],
                 "mark": {"type": "line", "strokeWidth": 1},
                 "encoding": {"x": {"field": "t", "type": "quantitative", "scale": {"domain": [360, 660], "range": [125, 256]}, "axis": null},
                              "y": {"field": "val", "type": "quantitative", "scale": {"domain": [0, 150], "range": [171, 65]},
                                    "axis": {"orient": "left", "offset": -125, "title": null, "values": [0,25,50,75,100,125,150], "labelExpr": "datum.value % 50 == 0 ? format(datum.value, 'd') : ''", "tickSize": {"condition": {"test": "datum.value % 50 != 0", "value": 3}, "value": 5}, "labelFontSize": 12}},
                              "color": {"field": "cell", "type": "nominal", "legend": null}}},
                {"mark": {"type": "line", "color": "#000", "strokeWidth": 2.5},
                 "encoding": {"x": {"field": "t", "type": "quantitative", "axis": null, "scale": {"domain": [360, 660], "range": [125, 256]}}, "y": {"field": "m", "type": "quantitative", "scale": {"domain": [0, 150], "range": [171, 65]}}}},
                {"data": {"values": [{}]}, "mark": {"type": "rule", "color": "#ff00ff", "strokeWidth": 4.5},
                 "encoding": {"x": {"datum": 420, "axis": null, "scale": {"domain": [360, 660], "range": [125, 256]}}, "x2": {"datum": 600}, "y": {"datum": 150, "scale": {"domain": [0, 150], "range": [171, 65]}}}}
              ]
            }
          ],
          "resolve": {"scale": {"x": "independent", "y": "independent"}, "axis": {"x": "independent", "y": "independent"}}
        },
        {
          "title": {"text": "E", "anchor": "start", "fontSize": 21, "fontWeight": "normal", "offset": 0, "dx": -10, "frame": "bounds"},
          "width": 166, "height": 218,
          "data": {"name": "gpn"},
          "layer": [
            {"mark": {"type": "rule", "color": "#000", "strokeWidth": 1.5},
             "encoding": {"x": {"field": "g", "type": "nominal", "sort": ["Wt", "TRPM2KO"],
                                "scale": {"domain": ["Wt", "TRPM2KO"], "paddingInner": 0.386, "paddingOuter": 0.35, "align": 0.6},
                                "axis": {"title": null, "labelAngle": -45, "ticks": false, "labelFontSize": 15, "labelPadding": 3, "labelColor": {"condition": {"test": "datum.value == 'TRPM2KO'", "value": "#e8201e"}, "value": "#000"}}},
                          "y": {"field": "v", "type": "quantitative", "scale": {"domain": [0, 32.4]},
                                "axis": {"title": "[Ca²⁺]ᵢ-increase by GPN (nM)", "values": [0,5,10,15,20,25,30], "labelExpr": "datum.value % 10 == 0 ? datum.label : ''", "tickSize": {"condition": {"test": "datum.value % 10 != 0", "value": 3}, "value": 6}, "labelFontSize": 15, "titleFontSize": 14, "titlePadding": 3}},
                          "y2": {"field": "hi"}}},
            {"mark": {"type": "bar", "stroke": "#000", "strokeWidth": 1.5},
             "encoding": {"x": {"field": "g", "type": "nominal", "sort": ["Wt", "TRPM2KO"], "scale": {"domain": ["Wt", "TRPM2KO"]}}, "y": {"field": "v", "type": "quantitative", "scale": {"domain": [0, 32.4]}},
                          "color": {"field": "g", "type": "nominal", "legend": null, "scale": {"domain": ["Wt", "TRPM2KO"], "range": ["#454545", "#ff0000"]}}}},
            {"mark": {"type": "tick", "color": "#000", "thickness": 1.5, "size": 12},
             "encoding": {"x": {"field": "g", "type": "nominal", "sort": ["Wt", "TRPM2KO"], "scale": {"domain": ["Wt", "TRPM2KO"]}}, "y": {"field": "hi", "type": "quantitative", "scale": {"domain": [0, 32.4]}}}},
            {"data": {"values": [{}]},
             "layer": [
               {"mark": {"type": "rule", "color": "#777", "strokeWidth": 1.3}, "encoding": {"x": {"datum": "Wt", "type": "nominal", "scale": {"domain": ["Wt", "TRPM2KO"]}}, "x2": {"datum": "TRPM2KO"}, "y": {"datum": 32.8, "type": "quantitative", "scale": {"domain": [0, 32.4]}}}},
               {"mark": {"type": "rule", "color": "#777", "strokeWidth": 1.3}, "encoding": {"x": {"datum": "Wt", "type": "nominal", "scale": {"domain": ["Wt", "TRPM2KO"]}}, "y": {"datum": 31.1, "type": "quantitative", "scale": {"domain": [0, 32.4]}}, "y2": {"datum": 32.8}}},
               {"mark": {"type": "rule", "color": "#777", "strokeWidth": 1.3}, "encoding": {"x": {"datum": "TRPM2KO", "type": "nominal", "scale": {"domain": ["Wt", "TRPM2KO"]}}, "y": {"datum": 31.1, "type": "quantitative", "scale": {"domain": [0, 32.4]}}, "y2": {"datum": 32.8}}},
               {"mark": {"type": "text", "text": "NS", "fontSize": 15, "align": "center", "baseline": "middle"}, "encoding": {"y": {"datum": 34.8, "type": "quantitative", "scale": {"domain": [0, 32.4]}}}}
             ]}
          ]
        }
      ]
    },
    {
      "width": 391, "height": 244,
      "data": {"name": "cellsD"},
      "layer": [
        {
          "layer": [
            {"data": {"values": [{}]},
             "layer": [
               {"mark": {"type": "rect", "color": "#d9d9d9"},
                "encoding": {"x": {"datum": 240, "type": "quantitative", "scale": {"domain": [0, 1080]},
                                   "axis": {"title": "Time (sec)", "values": [0,60,120,180,240,300,360,420,480,540,600,660,720,780,840,900,960,1020,1080], "labelExpr": "datum.value % 300 == 0 ? datum.label : ''", "tickSize": {"condition": {"test": "datum.value % 300 != 0", "value": 3}, "value": 6}, "labelFontSize": 16, "titleFontSize": 16, "labelPadding": 1, "titlePadding": 3}},
                             "x2": {"datum": 720}}},
               {"mark": {"type": "rule", "color": "#000", "strokeWidth": 1.3, "strokeDash": [6, 4]},
                "encoding": {"x": {"datum": 345, "scale": {"domain": [0, 1080]}}, "x2": {"datum": 359},
                             "y": {"datum": 469, "type": "quantitative", "scale": {"domain": [0, 1869]},
                                   "axis": {"title": "[Ca²⁺]ᵢ (nM)", "values": [0,250,500,750,1000,1250,1500], "labelExpr": "datum.value % 500 == 0 ? format(datum.value, 'd') : ''", "tickSize": {"condition": {"test": "datum.value % 500 != 0", "value": 3}, "value": 6}, "labelFontSize": 13, "titleFontSize": 12, "titlePadding": 4}},
                             "y2": {"datum": 0}}},
               {"mark": {"type": "rule", "color": "#000", "strokeWidth": 1.3, "strokeDash": [6, 4]},
                "encoding": {"x": {"datum": 702, "scale": {"domain": [0, 1080]}}, "x2": {"datum": 660}, "y": {"datum": 471, "scale": {"domain": [0, 1869]}}, "y2": {"datum": 0}}},
               {"mark": {"type": "rule", "color": "#000", "strokeWidth": 2.5},
                "encoding": {"x": {"datum": 0, "scale": {"domain": [0, 1080]}}, "x2": {"datum": 600}, "y": {"datum": 1637, "scale": {"domain": [0, 1869]}}}},
               {"mark": {"type": "rule", "color": "#777", "strokeWidth": 2.5, "strokeDash": [9, 6]},
                "encoding": {"x": {"datum": 600, "scale": {"domain": [0, 1080]}}, "x2": {"datum": 1080}, "y": {"datum": 1637, "scale": {"domain": [0, 1869]}}}}
             ]},
            {"transform": [{"fold": ["c1","c2","c3","c4","c5","c6","c7","c8","c9","c10","c11","c12"], "as": ["cell", "val"]}],
             "mark": {"type": "line", "strokeWidth": 1},
             "encoding": {"x": {"field": "t", "type": "quantitative", "scale": {"domain": [0, 1080]}}, "y": {"field": "val", "type": "quantitative", "scale": {"domain": [0, 1869]}},
                          "color": {"field": "cell", "type": "nominal", "legend": null,
                                    "scale": {"domain": ["c1","c2","c3","c4","c5","c6","c7","c8","c9","c10","c11","c12"], "range": ["#c8781e","#20b8d8","#2aa02a","#e020e0","#e41a1c","#8c8c8c","#1f2fd0","#8b3a2a","#7b2fa8","#a0a020","#e0508a","#333333"]}}}},
            {"mark": {"type": "line", "color": "#000", "strokeWidth": 2.5},
             "encoding": {"x": {"field": "t", "type": "quantitative", "scale": {"domain": [0, 1080]}}, "y": {"field": "m", "type": "quantitative", "scale": {"domain": [0, 1869]}}}},
            {"data": {"values": [{}]},
             "layer": [
               {"mark": {"type": "text", "text": "D", "fontSize": 18.5, "align": "left", "baseline": "middle"}, "encoding": {"x": {"datum": -168.5, "scale": {"domain": [0, 1080]}}, "y": {"datum": 2162, "scale": {"domain": [0, 1869]}}}},
               {"mark": {"type": "text", "text": "TRPM2KO", "fontSize": 18.5, "align": "left", "baseline": "middle", "color": "#e8201e"}, "encoding": {"x": {"datum": -76.5, "scale": {"domain": [0, 1080]}}, "y": {"datum": 2162, "scale": {"domain": [0, 1869]}}}},
               {"mark": {"type": "text", "text": "β-cell", "fontSize": 18.5, "align": "left", "baseline": "middle"}, "encoding": {"x": {"datum": 184, "scale": {"domain": [0, 1080]}}, "y": {"datum": 2162, "scale": {"domain": [0, 1869]}}}},
               {"mark": {"type": "text", "text": "(10G culture, 10G bath)", "fontSize": 18.5, "align": "left", "baseline": "middle"}, "encoding": {"x": {"datum": -81, "scale": {"domain": [0, 1080]}}, "y": {"datum": 2002, "scale": {"domain": [0, 1869]}}}},
               {"mark": {"type": "text", "text": "[Ca²⁺]ₒ-free", "fontSize": 12.5, "align": "center", "baseline": "middle"}, "encoding": {"x": {"datum": 476, "scale": {"domain": [0, 1080]}}, "y": {"datum": 1803, "scale": {"domain": [0, 1869]}}}},
               {"mark": {"type": "text", "text": "10G", "fontSize": 12.5, "align": "center", "baseline": "middle"}, "encoding": {"x": {"datum": 120, "scale": {"domain": [0, 1080]}}, "y": {"datum": 1714, "scale": {"domain": [0, 1869]}}}},
               {"mark": {"type": "text", "text": "2.8G", "fontSize": 12.5, "align": "center", "baseline": "middle"}, "encoding": {"x": {"datum": 877, "scale": {"domain": [0, 1080]}}, "y": {"datum": 1714, "scale": {"domain": [0, 1869]}}}},
               {"mark": {"type": "text", "text": "300 μM Tolbutamide", "fontSize": 13, "align": "center", "baseline": "middle"}, "encoding": {"x": {"datum": 897, "scale": {"domain": [0, 1080]}}, "y": {"datum": 1510, "scale": {"domain": [0, 1869]}}}},
               {"mark": {"type": "rule", "color": "#c00000", "strokeWidth": 4.5}, "encoding": {"x": {"datum": 838, "scale": {"domain": [0, 1080]}}, "x2": {"datum": 960}, "y": {"datum": 1392, "scale": {"domain": [0, 1869]}}}},
               {"mark": {"type": "text", "text": "200 μM GPN", "fontSize": 13.5, "align": "center", "baseline": "middle"}, "encoding": {"x": {"datum": 508, "scale": {"domain": [0, 1080]}}, "y": {"datum": 311, "scale": {"domain": [0, 1869]}}}},
               {"mark": {"type": "rule", "color": "#ff00ff", "strokeWidth": 4.5}, "encoding": {"x": {"datum": 419, "scale": {"domain": [0, 1080]}}, "x2": {"datum": 599}, "y": {"datum": 209, "scale": {"domain": [0, 1869]}}}}
             ]}
          ]
        },
        {
          "transform": [{"filter": "datum.t >= 360 && datum.t <= 660"}],
          "layer": [
            {"transform": [{"fold": ["c1","c2","c3","c4","c5","c6","c7","c8","c9","c10","c11","c12"], "as": ["cell", "val"]}],
             "mark": {"type": "line", "strokeWidth": 1},
             "encoding": {"x": {"field": "t", "type": "quantitative", "scale": {"domain": [360, 660], "range": [125, 256]}, "axis": null},
                          "y": {"field": "val", "type": "quantitative", "scale": {"domain": [0, 109], "range": [180.3, 76.4]},
                                "axis": {"orient": "left", "offset": -125, "title": null, "values": [0,25,50,75,100], "labelExpr": "datum.value % 50 == 0 ? format(datum.value, 'd') : ''", "tickSize": {"condition": {"test": "datum.value % 50 != 0", "value": 3}, "value": 5}, "labelFontSize": 12}},
                          "color": {"field": "cell", "type": "nominal", "legend": null}}},
            {"mark": {"type": "line", "color": "#000", "strokeWidth": 2.5},
             "encoding": {"x": {"field": "t", "type": "quantitative", "axis": null, "scale": {"domain": [360, 660], "range": [125, 256]}}, "y": {"field": "m", "type": "quantitative", "scale": {"domain": [0, 109], "range": [180.3, 76.4]}}}},
            {"data": {"values": [{}]}, "mark": {"type": "rule", "color": "#ff00ff", "strokeWidth": 4.5},
             "encoding": {"x": {"datum": 420, "axis": null, "scale": {"domain": [360, 660], "range": [125, 256]}}, "x2": {"datum": 600}, "y": {"datum": 108, "scale": {"domain": [0, 109], "range": [180.3, 76.4]}}}}
          ]
        }
      ],
      "resolve": {"scale": {"x": "independent", "y": "independent"}, "axis": {"x": "independent", "y": "independent"}}
    }
  ]
}
